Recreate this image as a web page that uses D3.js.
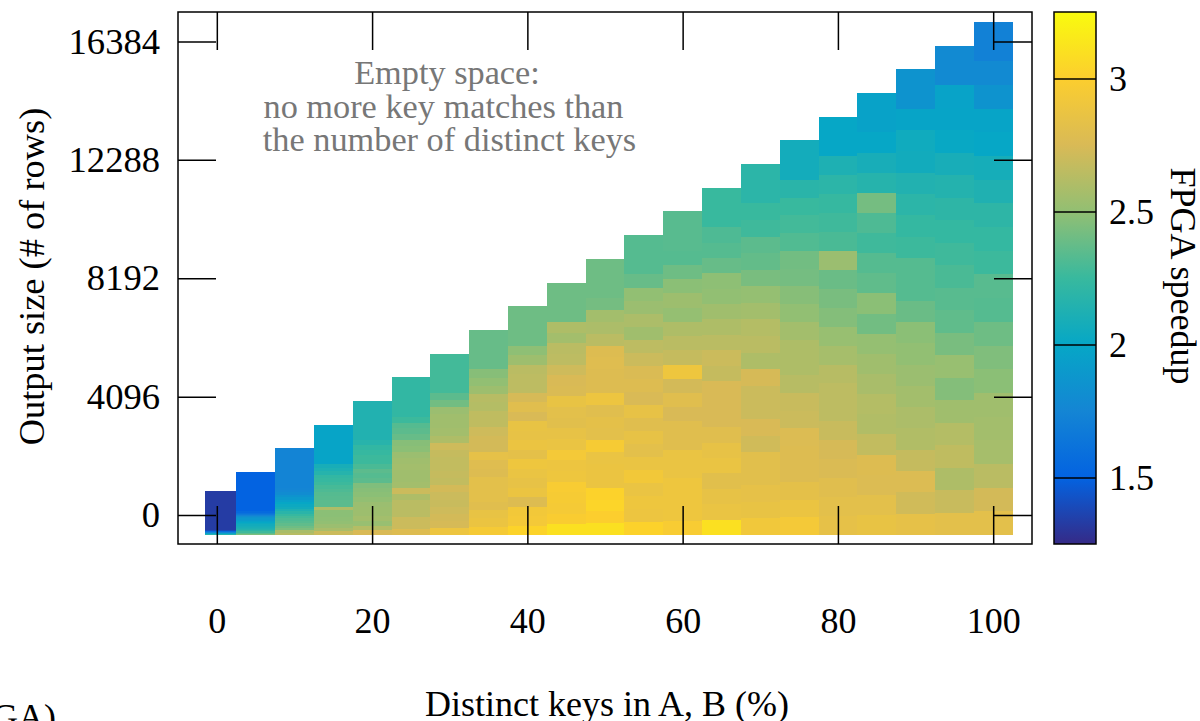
<!DOCTYPE html>
<html>
<head>
  <meta charset="utf-8">
  <title>FPGA speedup</title>
  <script src="https://d3js.org/d3.v7.min.js"></script>
  <style>
    html, body { margin: 0; padding: 0; background: white; overflow: hidden; }
    svg { display: block; }
    text { font-family: "Liberation Serif", serif; fill: black; }
    .tick text { font-size: 36px; }
    .ylabels .tick text { font-size: 36.6px; }
    .tick line { stroke: black; stroke-width: 1.5; }
    .domain { display: none; }
    .label { font-size: 36px; }
    .note { font-size: 34.3px; fill: #777; text-anchor: middle; }
    .cell { shape-rendering: crispEdges; }
  </style>
</head>
<body>
<div id="chart"></div>
<script>
// distinct keys in A, B (%), one column of cells each
var distinctKeys = [1, 5, 10, 15, 20, 25, 30, 35, 40, 45, 50, 55, 60, 65, 70, 75, 80, 85, 90, 95, 100]

// speedup, per column, bottom row first, last entry is the tall top cell
var col1 = [2.35, 2.25, 2.15, 2.1, 2.05, 2.0, 1.95, 1.9, 1.85, 1.8, 1.75, 1.7, 1.65, 1.6, 1.58, 1.55, 1.52, 1.5, 1.46, 1.4, 1.33]
var col5 = [2.44, 2.35, 2.27, 2.2, 2.15, 2.12, 2.1, 2.08, 2.06, 2.03, 2.0, 1.96, 1.92, 1.88, 1.85, 1.8, 1.73, 1.66, 1.6, 1.55, 1.5]
var col10 = [2.63, 2.58, 2.44, 2.4, 2.36, 2.33, 2.31, 2.28, 2.24, 2.18, 2.12, 2.06, 2.03, 2.0, 1.95, 1.9, 1.85, 1.8, 1.77, 1.75, 1.74]
var col15 = [2.7, 2.58, 2.53, 2.5, 2.49, 2.48, 2.48, 2.6, 2.35, 2.35, 2.34, 2.33, 2.31, 2.29, 2.26, 2.24, 2.22, 2.16, 2.12, 2.09, 1.98]
var col20 = [2.75, 2.62, 2.52, 2.56, 2.54, 2.54, 2.53, 2.5, 2.48, 2.47, 2.45, 2.35, 2.33, 2.35, 2.3, 2.26, 2.26, 2.24, 2.22, 2.17, 2.14]
var col25 = [2.78, 2.7, 2.7, 2.64, 2.64, 2.64, 2.6, 2.7, 2.56, 2.55, 2.55, 2.56, 2.55, 2.53, 2.48, 2.47, 2.38, 2.35, 2.33, 2.26, 2.22]
var col30 = [2.89, 2.74, 2.73, 2.71, 2.69, 2.7, 2.73, 2.67, 2.68, 2.67, 2.67, 2.68, 2.71, 2.6, 2.56, 2.55, 2.55, 2.53, 2.41, 2.35, 2.28]
var col35 = [2.95, 2.88, 2.86, 2.8, 2.82, 2.82, 2.82, 2.78, 2.79, 2.84, 2.73, 2.73, 2.71, 2.66, 2.66, 2.62, 2.63, 2.54, 2.5, 2.47, 2.38]
var col40 = [3.03, 2.94, 2.93, 2.78, 2.88, 2.85, 2.87, 2.9, 2.83, 2.88, 2.85, 2.86, 2.75, 2.8, 2.74, 2.65, 2.65, 2.64, 2.54, 2.49, 2.4]
var col45 = [3.1, 2.98, 2.95, 2.96, 2.97, 2.9, 2.89, 2.94, 2.87, 2.85, 2.81, 2.82, 2.86, 2.76, 2.75, 2.71, 2.65, 2.64, 2.56, 2.6, 2.4]
var col50 = [3.1, 3.0, 3.04, 3.02, 2.88, 2.88, 2.87, 2.96, 2.82, 2.83, 2.8, 2.89, 2.78, 2.78, 2.79, 2.78, 2.64, 2.59, 2.56, 2.42, 2.4]
var col55 = [3.02, 2.89, 2.9, 2.87, 2.93, 2.87, 2.82, 2.85, 2.8, 2.85, 2.75, 2.78, 2.76, 2.7, 2.65, 2.55, 2.59, 2.53, 2.5, 2.38, 2.33]
var col60 = [2.97, 2.9, 2.9, 2.9, 2.87, 2.87, 2.8, 2.8, 2.75, 2.8, 2.73, 2.9, 2.68, 2.64, 2.6, 2.51, 2.54, 2.48, 2.4, 2.33, 2.34]
var col65 = [3.1, 2.87, 2.85, 2.81, 2.87, 2.85, 2.8, 2.75, 2.75, 2.75, 2.68, 2.7, 2.64, 2.6, 2.55, 2.5, 2.49, 2.38, 2.33, 2.31, 2.25]
var col70 = [2.92, 2.86, 2.84, 2.81, 2.81, 2.72, 2.75, 2.7, 2.7, 2.74, 2.6, 2.64, 2.62, 2.56, 2.51, 2.43, 2.37, 2.35, 2.27, 2.25, 2.19]
var col75 = [2.94, 2.88, 2.83, 2.78, 2.78, 2.77, 2.7, 2.69, 2.63, 2.6, 2.6, 2.56, 2.5, 2.47, 2.42, 2.41, 2.32, 2.28, 2.25, 2.18, 2.07]
var col80 = [2.84, 2.82, 2.8, 2.76, 2.74, 2.69, 2.65, 2.65, 2.63, 2.57, 2.52, 2.46, 2.43, 2.39, 2.53, 2.3, 2.27, 2.24, 2.19, 2.12, 2.0]
var col85 = [2.86, 2.82, 2.77, 2.78, 2.67, 2.61, 2.62, 2.58, 2.55, 2.51, 2.41, 2.48, 2.36, 2.33, 2.27, 2.31, 2.42, 2.16, 2.09, 2.0, 1.96]
var col90 = [2.84, 2.72, 2.77, 2.68, 2.61, 2.59, 2.56, 2.53, 2.5, 2.48, 2.39, 2.33, 2.33, 2.26, 2.23, 2.19, 2.14, 2.06, 2.05, 1.98, 1.85]
var col95 = [2.82, 2.69, 2.6, 2.66, 2.62, 2.55, 2.46, 2.52, 2.43, 2.36, 2.34, 2.3, 2.27, 2.23, 2.2, 2.15, 2.09, 2.01, 1.98, 1.97, 1.79]
var col100 = [2.82, 2.73, 2.64, 2.57, 2.56, 2.55, 2.48, 2.45, 2.4, 2.33, 2.34, 2.26, 2.23, 2.2, 2.13, 2.08, 2.0, 1.98, 1.85, 1.79, 1.72]
var speedup = [col1, col5, col10, col15, col20, col25, col30, col35, col40, col45, col50, col55, col60, col65, col70, col75, col80, col85, col90, col95, col100]

var maxOutput = 16384
var rowOffset = -690, topPad = 671   // rows are shifted below their output size, top cell is stretched

var xTicks = [0, 20, 40, 60, 80, 100]
var yTicks = [0, 4096, 8192, 12288, 16384]
var cbTicks = [1.5, 2, 2.5, 3]
var noteLines = ["Empty space:", "no more key matches than", "the number of distinct keys"]
var noteCentres = [447, 443.5, 449.5]

// parula palette, one colour each quarter of a speedup unit
var paletteValues = [1.25, 1.5, 1.75, 2, 2.25, 2.5, 2.75, 3, 3.25]
var paletteColors = ["#352a87", "#0363e1", "#1485d4", "#06a7c6", "#38b99e", "#92bf73", "#d9ba56", "#fcce2e", "#f9fb0e"]

var width = 1200, height = 721
var plotLeft = 178, plotRight = 1032, plotTop = 12, plotBottom = 544
var cbLeft = 1054, cbRight = 1096

var svg = d3.select("#chart").append("svg")
  .attr("width", width)
  .attr("height", height)

var x = d3.scaleLinear().domain([-5, 105]).range([plotLeft, plotRight])
var y = d3.scaleLinear().domain([-1000, 17400]).range([plotBottom, plotTop])
var color = d3.scaleLinear().domain(paletteValues).range(paletteColors)
var cb = d3.scaleLinear().domain([1.25, 3.25]).range([plotBottom, plotTop])

// one group per column, one rect per row
var columns = svg.append("g").selectAll("g")
  .data(distinctKeys)
  .enter().append("g")

columns.selectAll("rect")
  .data(function (pct, i) {
    var m = maxOutput * pct / 100
    return speedup[i].map(function (v, k) {
      var lo = m * k / 20 + rowOffset
      var hi = k == 20 ? m + topPad : m * (k + 1) / 20 + rowOffset
      return {x0: pct - 2.5, x1: distinctKeys[i + 1] ? distinctKeys[i + 1] - 2.5 : pct + 2.5, lo: lo, hi: hi, v: v}
    })
  })
  .enter().append("rect")
  .attr("class", "cell")
  .attr("x", function (d) { return x(d.x0) })
  .attr("width", function (d) { return x(d.x1) - x(d.x0) })
  .attr("y", function (d) { return y(d.hi) })
  .attr("height", function (d) { return y(d.lo) - y(d.hi) })
  .attr("fill", function (d) { return color(d.v) })

// axes: long inward ticks on all four sides
var tickLen = 38
svg.append("g")
  .attr("transform", "translate(0," + plotBottom + ")")
  .call(d3.axisBottom(x).tickValues(xTicks).tickSize(-tickLen).tickPadding(63))
svg.append("g")
  .attr("transform", "translate(0," + plotTop + ")")
  .call(d3.axisTop(x).tickValues(xTicks).tickSize(-tickLen).tickFormat(""))
svg.append("g")
  .attr("class", "ylabels")
  .attr("transform", "translate(" + plotLeft + ",0)")
  .call(d3.axisLeft(y).tickValues(yTicks).tickSize(-tickLen).tickPadding(18).tickFormat(d3.format("d")))
svg.append("g")
  .attr("transform", "translate(" + plotRight + ",0)")
  .call(d3.axisRight(y).tickValues(yTicks).tickSize(-tickLen).tickFormat(""))

svg.append("rect")
  .attr("x", plotLeft).attr("y", plotTop)
  .attr("width", plotRight - plotLeft).attr("height", plotBottom - plotTop)
  .attr("fill", "none").attr("stroke", "black").attr("stroke-width", 1.5)

// colour bar
var grad = svg.append("defs").append("linearGradient")
  .attr("id", "bar")
  .attr("x1", 0).attr("y1", 1).attr("x2", 0).attr("y2", 0)
grad.selectAll("stop")
  .data(paletteValues)
  .enter().append("stop")
  .attr("offset", function (d) { return (d - 1.25) / 2 })
  .attr("stop-color", function (d) { return color(d) })

svg.append("rect")
  .attr("x", cbLeft).attr("y", plotTop)
  .attr("width", cbRight - cbLeft).attr("height", plotBottom - plotTop)
  .attr("fill", "url(#bar)").attr("stroke", "black").attr("stroke-width", 1.5)

svg.append("g")
  .attr("transform", "translate(" + cbLeft + ",0)")
  .call(d3.axisRight(cb).tickValues(cbTicks).tickSize(cbRight - cbLeft).tickPadding(13).tickFormat(d3.format("")))

// labels
svg.append("text").attr("class", "label")
  .attr("text-anchor", "middle")
  .style("font-size", "36.4px")
  .attr("transform", "translate(43.5,276.5) rotate(-90)")
  .text("Output size (# of rows)")
svg.append("text").attr("class", "label")
  .attr("text-anchor", "middle")
  .attr("x", 607).attr("y", 716)
  .text("Distinct keys in A, B (%)")
svg.append("text").attr("class", "label")
  .attr("text-anchor", "middle")
  .attr("transform", "translate(1171,276) rotate(90)")
  .text("FPGA speedup")
svg.append("text").attr("class", "label")
  .attr("text-anchor", "end")
  .attr("x", 56).attr("y", 729)
  .text("(FPGA)")

svg.append("g").selectAll("text")
  .data(noteLines)
  .enter().append("text")
  .attr("class", "note")
  .attr("x", function (d, i) { return noteCentres[i] })
  .attr("y", function (d, i) { return 84 + i * 33.5 })
  .text(function (d) { return d })
</script>
</body>
</html>
